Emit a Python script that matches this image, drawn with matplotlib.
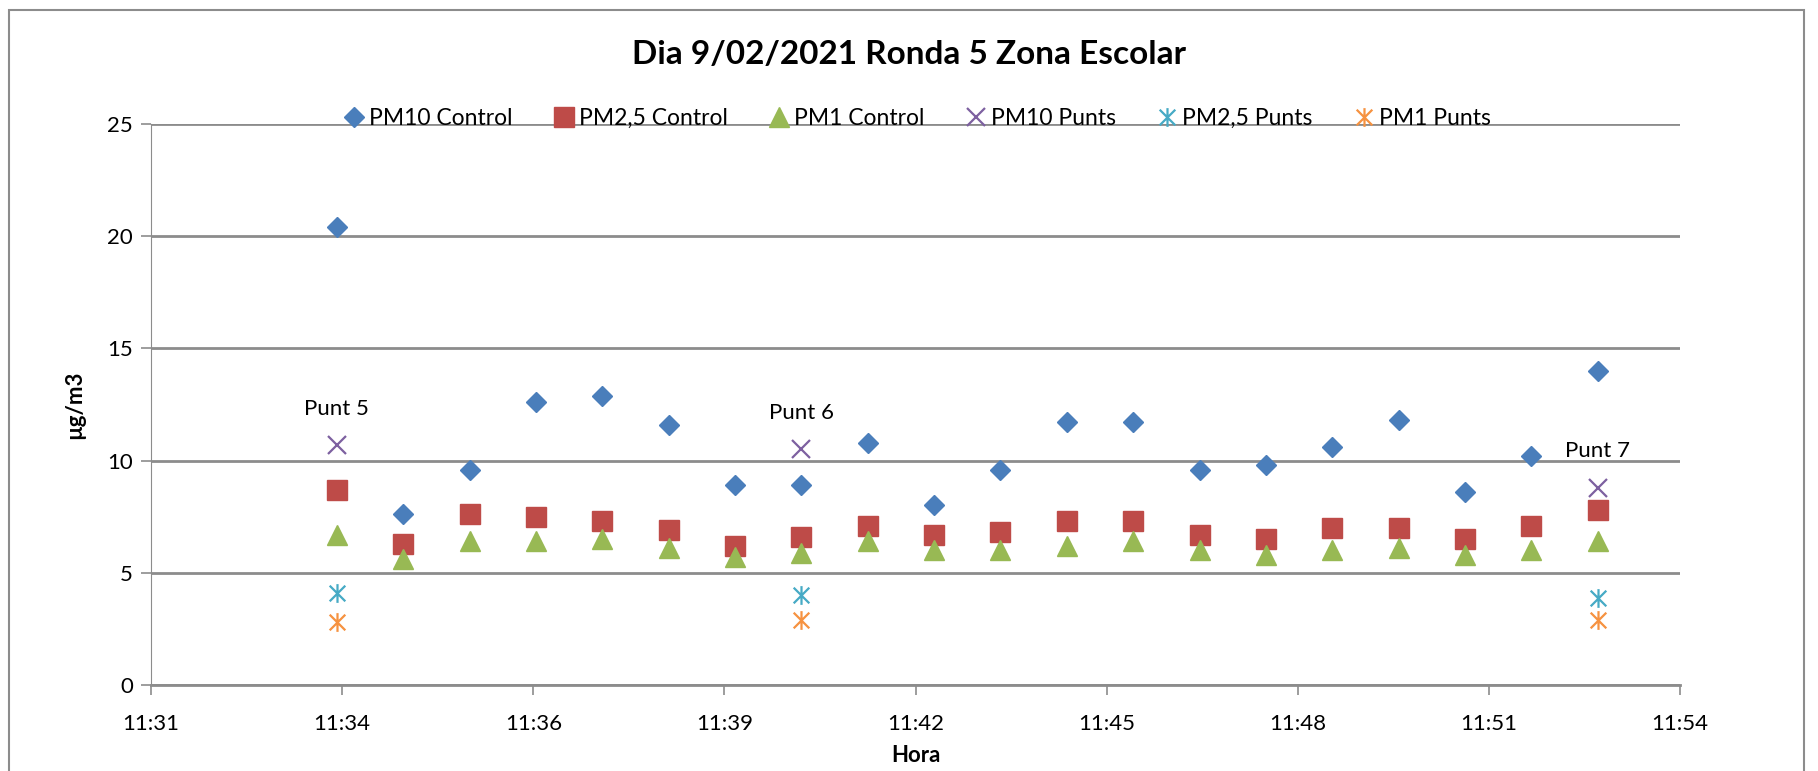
import numpy as np
import matplotlib
matplotlib.use("Agg")
import matplotlib.pyplot as plt
from matplotlib.path import Path
from matplotlib.patches import Rectangle

plt.rcParams['font.family'] = ['Lato', 'DejaVu Sans']

# minutes (hh:mm) of each reading
control_times = ["11:34", "11:35", "11:36", "11:37", "11:38", "11:39", "11:40",
                 "11:41", "11:42", "11:43", "11:44", "11:45", "11:46", "11:47",
                 "11:48", "11:49", "11:50", "11:51", "11:52", "11:53"]
pm10_control = [20.4, 7.6, 9.6, 12.6, 12.9, 11.6, 8.9, 8.9, 10.8, 8.0,
                9.6, 11.7, 11.7, 9.6, 9.8, 10.6, 11.8, 8.6, 10.2, 14.0]
pm25_control = [8.7, 6.3, 7.6, 7.5, 7.3, 6.9, 6.2, 6.6, 7.1, 6.7,
                6.8, 7.3, 7.3, 6.7, 6.5, 7.0, 7.0, 6.5, 7.1, 7.8]
pm1_control = [6.7, 5.6, 6.4, 6.4, 6.5, 6.1, 5.7, 5.9, 6.4, 6.0,
               6.0, 6.2, 6.4, 6.0, 5.8, 6.0, 6.1, 5.8, 6.0, 6.4]

punt_times = ["11:34", "11:41", "11:53"]
punt_labels = ["Punt 5", "Punt 6", "Punt 7"]
pm10_punts = [10.7, 10.5, 8.8]
pm25_punts = [4.1, 4.0, 3.9]
pm1_punts = [2.8, 2.9, 2.9]

x_ticks = [0.480, 0.482, 0.484, 0.486, 0.488, 0.490, 0.492, 0.494, 0.496]


def to_day(t):
    h, m = t.split(":")
    return (int(h) * 60 + int(m)) / 1440.0


def fmt_time(d):
    # excel style h:mm, seconds truncated
    secs = int(round(d * 86400))
    return "%d:%02d" % (secs // 3600, (secs % 3600) // 60)


xc = [to_day(t) for t in control_times]
xp = [to_day(t) for t in punt_times]

# excel asterisk: an X with a vertical bar
ast = Path([(-0.5, -0.5), (0.5, 0.5), (-0.5, 0.5), (0.5, -0.5), (0, -0.6), (0, 0.6)],
           [Path.MOVETO, Path.LINETO, Path.MOVETO, Path.LINETO, Path.MOVETO, Path.LINETO])

fig = plt.figure(figsize=(18.18, 7.71), dpi=100)
ax = fig.add_axes([0.0831, 0.1115, 0.8410, 0.7277])

fig.patches.append(Rectangle((9 / 1818, -0.2), 1795 / 1818, 1.2 - 10 / 771,
                             transform=fig.transFigure, fill=False,
                             edgecolor='#8c8c8c', linewidth=1.5))

ax.plot(xc, pm10_control, 'D', color='#4a7ebb', markersize=9.7, mec='#4a7ebb', label='PM10 Control', zorder=3)
ax.plot(xc, pm25_control, 's', color='#be4b48', markersize=15, mec='#be4b48', label='PM2,5 Control', zorder=3)
ax.plot(xc, pm1_control, '^', color='#98b954', markersize=14.5, mec='#98b954', label='PM1 Control', zorder=3)
ax.plot(xp, pm10_punts, 'x', color='#7d60a0', markersize=13.5, mew=1.6, label='PM10 Punts', zorder=3)
ax.plot(xp, pm25_punts, marker=ast, ls='none', color='#46aac5', markersize=13.5, mew=1.6, label='PM2,5 Punts', zorder=3)
ax.plot(xp, pm1_punts, marker=ast, ls='none', color='#f69240', markersize=13.5, mew=1.6, label='PM1 Punts', zorder=3)

for x, y, lab in zip(xp, pm10_punts, punt_labels):
    ax.annotate(lab, (x, y), xytext=(0, 26), textcoords='offset points',
                ha='center', va='center', fontsize=16)

ax.set_xlim(0.480, 0.496)
ax.set_ylim(0, 25)
ax.set_xticks(x_ticks)
ax.set_xticklabels([fmt_time(t) for t in x_ticks])
ax.set_yticks(range(0, 26, 5))
ax.yaxis.grid(True, color='#8c8c8c', linewidth=2)
ax.set_axisbelow(True)

for s in ['top', 'right']:
    ax.spines[s].set_visible(False)
ax.spines['left'].set_color('#8c8c8c')
ax.spines['bottom'].set_color('#8c8c8c')
ax.spines['bottom'].set_linewidth(2)
ax.tick_params(axis='both', colors='#8c8c8c', labelcolor='black', labelsize=16,
               length=7, width=1.2)
ax.tick_params(axis='x', pad=14)
ax.tick_params(axis='y', pad=6)

ax.set_xlabel('Hora', fontsize=16, fontweight='bold', labelpad=8)
ax.set_ylabel('µg/m3', fontsize=16, fontweight='bold', labelpad=16)
fig.text(0.5, 1 - 54 / 771, 'Dia 9/02/2021 Ronda 5 Zona Escolar', ha='center', va='center',
         fontsize=24, fontweight='bold')

ax.legend(loc='center', bbox_to_anchor=(0.5, 1.01), ncol=6, frameon=False,
          fontsize=16.5, handletextpad=0.05, columnspacing=1.65, handlelength=1.2)

fig.savefig('out.png', dpi=100)
